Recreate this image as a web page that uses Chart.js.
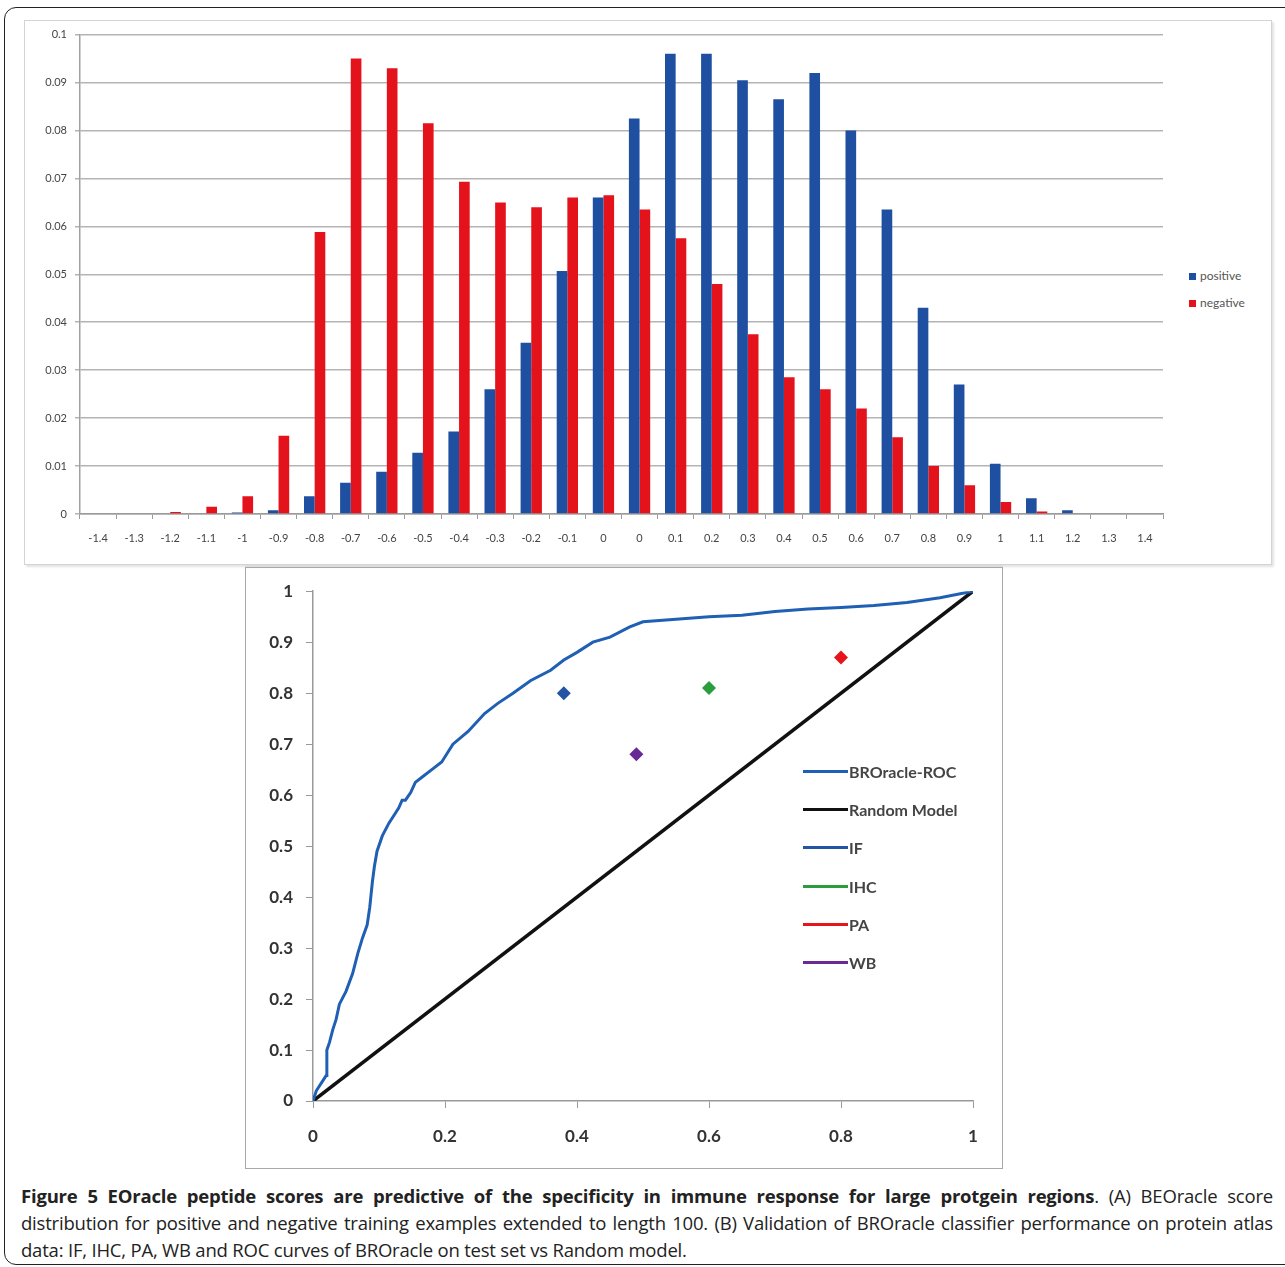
<!DOCTYPE html>
<html>
<head>
<meta charset="utf-8">
<script src="https://cdn.jsdelivr.net/npm/chart.js@4.4.1/dist/chart.umd.min.js"></script>
<style>
    body { margin: 0; background: #fff; width: 1285px; height: 1267px; overflow: hidden; position: relative; font-family: "Open Sans", sans-serif; }
    .frame { position: absolute; left: 4px; top: 7px; width: 1310px; height: 1256px; border: 1.5px solid #222; border-radius: 12px; }
    .panelA { position: absolute; left: 24px; top: 20px; width: 1246px; height: 543px; border: 1px solid #d4d4d4; box-shadow: 2px 2px 2px #e4e4e4; }
    .panelB { position: absolute; left: 245px; top: 567px; width: 756px; height: 600px; border: 1px solid #a8a8a8; box-shadow: 0 -2px 0 #dcdcdc; }
    #chartA { position: absolute; left: 24px; top: 20px; }
    #chartB { position: absolute; left: 246px; top: 568px; }
    .legA { position: absolute; left: 1189px; font: 12px Lato, sans-serif; color: #555; }
    .legA span { display: inline-block; width: 7px; height: 7px; margin-right: 4px; vertical-align: 0px; }
    .legB { position: absolute; left: 803px; font: bold 16px Lato, sans-serif; color: #444; height: 20px; line-height: 20px; }
    .legB span { display: inline-block; width: 45px; height: 3px; vertical-align: 5px; margin-right: 1px; }
    .caption { position: absolute; left: 21px; top: 1182px; width: 1252px; font-size: 18.5px; color: #222; line-height: 27px; letter-spacing: -0.2px; }
    .caption div.j { text-align: justify; text-align-last: justify; }
</style>
</head>
<body>
<div class="frame"></div>
<div class="panelA"></div>
<div class="panelB"></div>
<canvas id="chartA" width="1150" height="540"></canvas>
<canvas id="chartB" width="756" height="600"></canvas>

<div class="legA" style="top: 268px;"><span style="background:#1f4fa0"></span>positive</div>
<div class="legA" style="top: 295px;"><span style="background:#e4121b"></span>negative</div>

<div class="legB" style="top: 762px;"><span style="background:#1f5fb4"></span>BROracle-ROC</div>
<div class="legB" style="top: 800px;"><span style="background:#111"></span>Random Model</div>
<div class="legB" style="top: 838px;"><span style="background:#2455a4"></span>IF</div>
<div class="legB" style="top: 877px;"><span style="background:#2a9d3c"></span>IHC</div>
<div class="legB" style="top: 915px;"><span style="background:#e8141c"></span>PA</div>
<div class="legB" style="top: 953px;"><span style="background:#6a2a96"></span>WB</div>

<div class="caption">
    <div class="j"><b>Figure 5 EOracle peptide scores are predictive of the specificity in immune response for large protgein regions</b>. (A) BEOracle score</div>
    <div class="j">distribution for positive and negative training examples extended to length 100. (B) Validation of BROracle classifier performance on protein atlas</div>
    <div>data: IF, IHC, PA, WB and ROC curves of BROracle on test set vs Random model.</div>
</div>

<script>
// (A) score distribution
const scoreBins = ['-1.4', '-1.3', '-1.2', '-1.1', '-1', '-0.9', '-0.8', '-0.7', '-0.6', '-0.5', '-0.4', '-0.3', '-0.2', '-0.1', '0',
    '0', '0.1', '0.2', '0.3', '0.4', '0.5', '0.6', '0.7', '0.8', '0.9', '1', '1.1', '1.2', '1.3', '1.4'];
const positive = [0, 0, 0, 0, 0.0003, 0.0008, 0.0037, 0.0065, 0.0088, 0.0128, 0.0172, 0.026, 0.0357, 0.0507, 0.066,
    0.0825, 0.096, 0.096, 0.0905, 0.0865, 0.092, 0.080, 0.0635, 0.043, 0.027, 0.0105, 0.0033, 0.0008, 0, 0];
const negative = [0, 0, 0.0004, 0.0015, 0.0037, 0.0163, 0.0588, 0.095, 0.093, 0.0815, 0.0693, 0.065, 0.064, 0.066, 0.0665,
    0.0635, 0.0575, 0.048, 0.0375, 0.0285, 0.026, 0.022, 0.016, 0.010, 0.006, 0.0025, 0.0005, 0, 0, 0];

// (B) ROC curve (false positive rate, true positive rate)
const rocFpr = [0, 0.005, 0.015, 0.02, 0.021, 0.025, 0.03, 0.035, 0.04, 0.05, 0.06, 0.068, 0.075, 0.082, 0.086, 0.09, 0.093,
    0.097, 0.105, 0.115, 0.125, 0.13, 0.135, 0.14, 0.148, 0.155, 0.165, 0.18, 0.195, 0.212, 0.235, 0.26, 0.28, 0.303,
    0.33, 0.36, 0.38, 0.40, 0.424, 0.45, 0.48, 0.5, 0.55, 0.6, 0.65, 0.7, 0.75, 0.8, 0.85, 0.9, 0.95, 1];
const rocTpr = [0, 0.02, 0.04, 0.05, 0.1, 0.115, 0.14, 0.16, 0.19, 0.215, 0.25, 0.29, 0.32, 0.345, 0.38, 0.43, 0.46,
    0.49, 0.52, 0.545, 0.565, 0.575, 0.59, 0.59, 0.605, 0.625, 0.635, 0.65, 0.665, 0.7, 0.725, 0.76, 0.78, 0.8,
    0.825, 0.845, 0.865, 0.88, 0.9, 0.91, 0.93, 0.94, 0.945, 0.95, 0.953, 0.96, 0.965, 0.968, 0.972, 0.978, 0.987, 1];
const randomModel = [0, 1];
const atlasNames = ['IF', 'IHC', 'PA', 'WB'];
const atlasFpr = [0.38, 0.60, 0.80, 0.49];
const atlasTpr = [0.80, 0.81, 0.87, 0.68];
const atlasColors = ['#2455a4', '#2a9d3c', '#e8141c', '#6a2a96'];

new Chart(document.getElementById('chartA').getContext('2d'), {
    type: 'bar',
    data: {
        labels: scoreBins,
        datasets: [
            { label: 'positive', data: positive, backgroundColor: '#1f4fa0' },
            { label: 'negative', data: negative, backgroundColor: '#e4121b' }
        ]
    },
    options: {
        responsive: false,
        animation: false,
        layout: { padding: { top: 14, right: 11, left: 0, bottom: 0 } },
        plugins: { legend: { display: false }, tooltip: { enabled: false } },
        datasets: { bar: { categoryPercentage: 0.59, barPercentage: 1.0 } },
        scales: {
            x: {
                grid: { drawOnChartArea: false, drawTicks: true, tickLength: 5, color: '#9a9a9a', offset: true },
                border: { color: '#9a9a9a', width: 1.5 },
                ticks: { autoSkip: false, maxRotation: 0, padding: 13, color: '#444', font: { family: 'Lato', size: 11 } },
                afterFit: scale => { scale.height = 46; }
            },
            y: {
                min: 0, max: 0.1,
                grid: { color: '#b4b4b4', lineWidth: 1.5, tickLength: 5 },
                border: { color: '#a0a0a0', width: 1.5 },
                ticks: { stepSize: 0.01, padding: 8, color: '#444', font: { family: 'Lato', size: 11 },
                    callback: v => String(Math.round(v * 100) / 100) },
                afterFit: scale => { scale.width = 56; }
            }
        }
    }
});

const rocData = rocFpr.map((x, i) => ({ x: x, y: rocTpr[i] }));
const atlasSets = atlasNames.map((name, i) => ({
    type: 'scatter',
    label: name,
    data: [{ x: atlasFpr[i], y: atlasTpr[i] }],
    pointStyle: 'rectRot',
    pointRadius: 7,
    backgroundColor: atlasColors[i],
    borderColor: atlasColors[i],
    borderWidth: 0
}));

new Chart(document.getElementById('chartB').getContext('2d'), {
    type: 'line',
    data: {
        datasets: [
            { label: 'BROracle-ROC', data: rocData, borderColor: '#1f5fb4', borderWidth: 3, pointRadius: 0, tension: 0 },
            { label: 'Random Model', data: randomModel.map(v => ({ x: v, y: v })), borderColor: '#111', borderWidth: 3.5, pointRadius: 0 },
            ...atlasSets
        ]
    },
    options: {
        responsive: false,
        animation: false,
        layout: { padding: { top: 23, right: 29, left: 0, bottom: 0 } },
        plugins: { legend: { display: false }, tooltip: { enabled: false } },
        scales: {
            x: {
                type: 'linear', min: 0, max: 1,
                grid: { drawOnChartArea: false, tickLength: 7, color: '#999' },
                border: { color: '#999', width: 1.5 },
                ticks: { stepSize: 0.2, padding: 18, color: '#333', font: { family: 'Lato', size: 17, weight: 'bold' },
                    callback: v => String(Math.round(v * 10) / 10) },
                afterFit: scale => { scale.height = 67; }
            },
            y: {
                min: 0, max: 1,
                grid: { drawOnChartArea: false, tickLength: 7, color: '#999' },
                border: { color: '#999', width: 1.5 },
                ticks: { stepSize: 0.1, padding: 13, color: '#333', font: { family: 'Lato', size: 17, weight: 'bold' },
                    callback: v => String(Math.round(v * 10) / 10) },
                afterFit: scale => { scale.width = 67; }
            }
        }
    }
});
</script>
</body>
</html>
